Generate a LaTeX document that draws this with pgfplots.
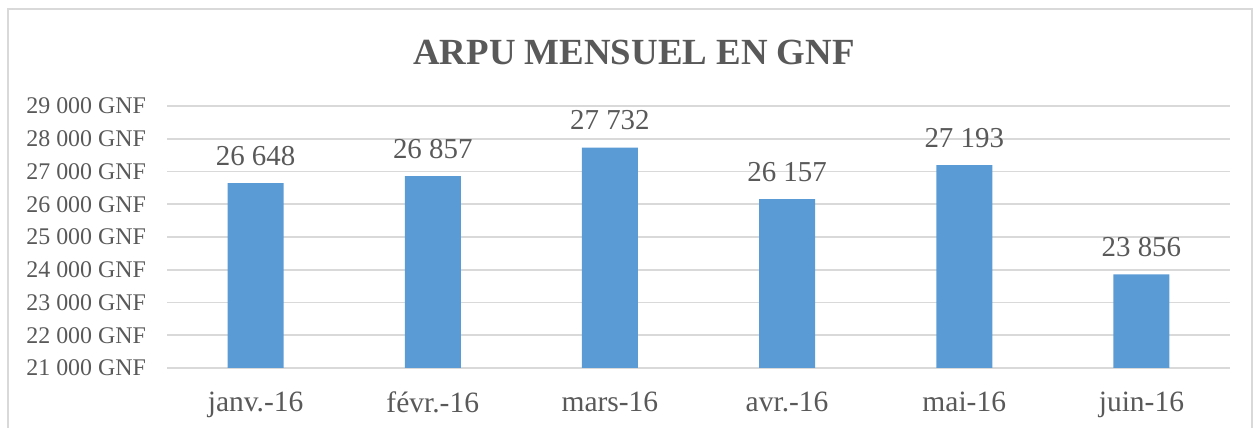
\documentclass[border=0pt]{standalone}
\usepackage{fontspec}
\setmainfont{Liberation Serif}
\usepackage{pgfplots}
\pgfplotsset{compat=1.18}
\definecolor{barblue}{HTML}{5B9BD5}
\definecolor{txtgray}{HTML}{595959}
\definecolor{gridgray}{HTML}{D9D9D9}
\begin{document}
\begin{tikzpicture}
\useasboundingbox (0,0) rectangle (630bp,214bp);
% chart frame (bottom edge falls outside the crop)
\draw[gridgray, line width=1bp] (4bp,-5bp) -- (4bp,209.5bp) -- (626bp,209.5bp) -- (626bp,-5bp);
\node[font=\bfseries\fontsize{18.5}{20}\selectfont, text=txtgray] at (317bp,188bp) {ARPU MENSUEL EN GNF};
\begin{axis}[
  at={(83.5bp,30bp)}, anchor=south west,
  scale only axis, width=531.5bp, height=131bp,
  xmin=-0.5, xmax=5.5, ymin=21000, ymax=29000,
  ytick distance=1000,
  scaled y ticks=false,
  xtick=data,
  xticklabels={janv.-16,févr.-16,mars-16,avr.-16,mai-16,juin-16},
  axis line style={draw=none},
  major tick length=0pt,
  ymajorgrids, grid style={gridgray, line width=0.9bp},
  /pgf/number format/assume math mode=true,
  /pgf/number format/1000 sep={\ },
  yticklabel={\pgfmathprintnumber{\tick}~GNF},
  yticklabel style={font=\fontsize{12}{14}\selectfont, text=txtgray, xshift=-7bp},
  xticklabel style={font=\fontsize{14.8}{16}\selectfont, text=txtgray, yshift=-8.5bp},
  ybar, bar width=28bp, bar shift=0pt,
  nodes near coords,
  every node near coord/.append style={font=\fontsize{14.5}{16}\selectfont, text=txtgray, anchor=base, inner sep=0pt, yshift=9bp},
]
\addplot[fill=barblue, draw=none] coordinates {
(0,26648) (1,26857) (2,27732) (3,26157) (4,27193) (5,23856)
};
\end{axis}
\end{tikzpicture}
\end{document}
